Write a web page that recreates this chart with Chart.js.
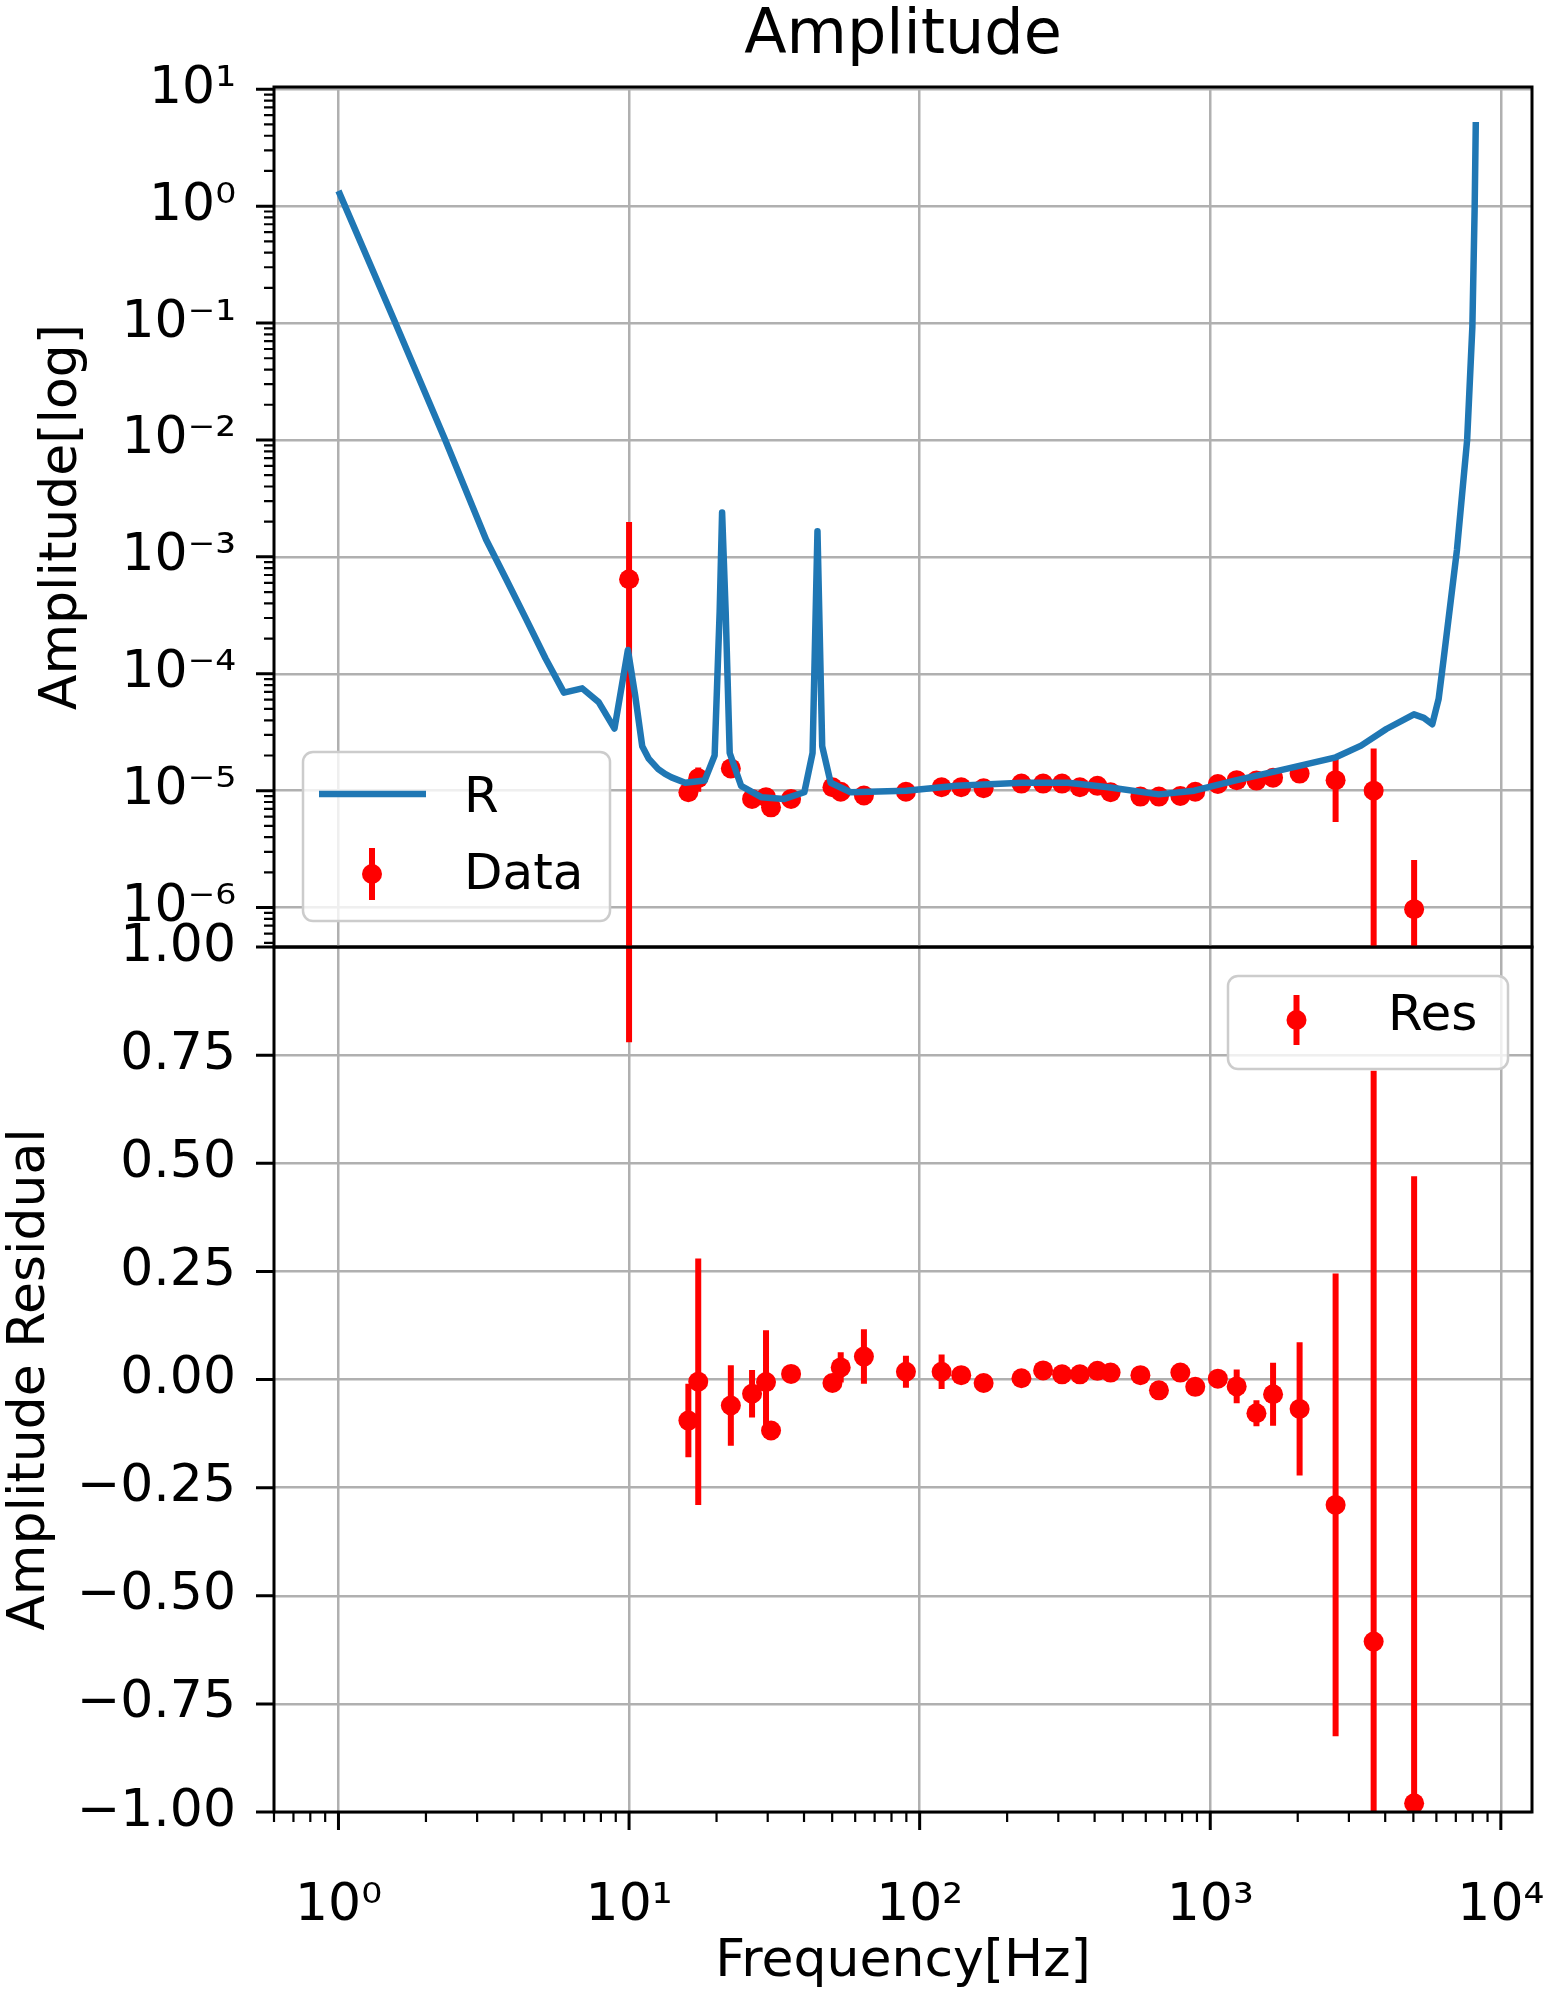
<!DOCTYPE html>
<html>
<head>
<meta charset="utf-8">
<title>Amplitude</title>
<script src="https://cdn.jsdelivr.net/npm/chart.js@4.4.1/dist/chart.umd.min.js"></script>
<style>
  html, body { margin: 0; padding: 0; background: #fff; }
  #wrap { position: relative; width: 1547px; height: 1994px; overflow: hidden; }
  canvas { position: absolute; left: 0; }
  #amp { top: 0; }
  #resid { top: 880px; }
</style>
</head>
<body>
<div id="wrap">
  <canvas id="resid" width="1547" height="1114"></canvas>
  <canvas id="amp" width="1547" height="1000"></canvas>
</div>
<script>
// measured transfer function points
const freq = [10, 16.0, 17.3, 22.4, 26.5, 29.6, 30.8, 36.1, 50.1, 53.5, 64.3, 89.7, 119, 139, 166, 224, 266,
  309, 356, 409, 454, 575, 666, 789, 888, 1062, 1233, 1442, 1645, 2030, 2700, 3650, 5030];
const amp = [6.43e-4, 9.7e-6, 1.28e-5, 1.55e-5, 8.5e-6, 8.8e-6, 7.2e-6, 8.5e-6, 1.07e-5, 9.8e-6, 9.1e-6,
  9.8e-6, 1.07e-5, 1.07e-5, 1.05e-5, 1.15e-5, 1.15e-5, 1.15e-5, 1.07e-5, 1.10e-5, 9.7e-6, 8.9e-6, 8.9e-6,
  9.0e-6, 9.8e-6, 1.14e-5, 1.23e-5, 1.22e-5, 1.29e-5, 1.40e-5, 1.23e-5, 1.00e-5, 9.7e-7];
const ampErr = [1.34e-3, 8e-7, 3.0e-6, 1.4e-6, 5e-7, 1.0e-6, 2e-7, 2e-7, 2e-7, 3.5e-7, 6e-7,
  4e-7, 4e-7, 2e-7, 2e-7, 2e-7, 2e-7, 2e-7, 2e-7, 2e-7, 2e-7, 2e-7, 2e-7,
  2e-7, 2e-7, 2e-7, 5e-7, 4e-7, 1.0e-6, 2.1e-6, 6.9e-6, 1.29e-5, 1.58e-6];
const res = [1.5, -0.095, -0.005, -0.060, -0.033, -0.006, -0.118, 0.013, -0.008, 0.028, 0.053,
  0.018, 0.018, 0.010, -0.008, 0.003, 0.021, 0.012, 0.012, 0.020, 0.016, 0.010, -0.025,
  0.016, -0.017, 0.002, -0.016, -0.078, -0.034, -0.068, -0.29, -0.606, -0.98];
const resErr = [0.72, 0.085, 0.285, 0.093, 0.055, 0.12, 0.02, 0.01, 0.015, 0.035, 0.063,
  0.037, 0.04, 0.01, 0.01, 0.01, 0.015, 0.01, 0.01, 0.015, 0.01, 0.01, 0.01,
  0.015, 0.01, 0.01, 0.039, 0.03, 0.073, 0.154, 0.535, 1.32, 1.45];

// model curve R
const modelFreq = [1, 1.57, 2.33, 3.22, 3.77, 4.42, 5.16, 5.97, 6.90, 7.87, 8.91, 9.91, 10.5, 11.1, 11.7,
  12.6, 13.3, 14.0, 15.6, 18.2, 19.7, 20.5, 20.9, 21.5, 22.2, 24.3, 28.5, 34.2, 40.1, 42.8, 44.5, 46.2,
  49.4, 57.9, 89.7, 134, 225, 324, 446, 665, 881, 1213, 1811, 2704, 3304, 4036, 5023, 5433, 5808, 6109,
  6353, 7063, 7656, 7980, 8128, 8200];
const modelAmp = [1.35, 0.1, 1.0e-2, 1.41e-3, 6.5e-4, 2.95e-4, 1.35e-4, 6.9e-5, 7.5e-5, 5.7e-5, 3.4e-5,
  1.6e-4, 6.5e-5, 2.4e-5, 1.87e-5, 1.53e-5, 1.39e-5, 1.3e-5, 1.17e-5, 1.22e-5, 2.0e-5, 3.4e-4, 2.4e-3,
  3.4e-4, 2.1e-5, 1.1e-5, 8.8e-6, 8.5e-6, 9.7e-6, 2.1e-5, 1.66e-3, 2.4e-5, 1.17e-5, 9.7e-6, 1.0e-5,
  1.1e-5, 1.17e-5, 1.17e-5, 1.07e-5, 9.3e-6, 1.0e-5, 1.22e-5, 1.53e-5, 1.93e-5, 2.43e-5, 3.37e-5,
  4.5e-5, 4.2e-5, 3.7e-5, 6.1e-5, 1.33e-4, 1.15e-3, 1.0e-2, 9.3e-2, 1.0, 5.25];

// tick values
const freqTicks = [1, 10, 100, 1000, 10000];
const ampTicks = [1e-6, 1e-5, 1e-4, 1e-3, 1e-2, 1e-1, 1, 10];
const resTicks = [-1, -0.75, -0.5, -0.25, 0, 0.25, 0.5, 0.75, 1];

const X_MIN = 0.635, X_MAX = 12800;
const AMP_MIN = Math.pow(10, -6.337), AMP_MAX = Math.pow(10, 1.019);

const BLUE = '#1f77b4', RED = '#ff0000', GRID = '#b0b0b0';
const FONT = 'DejaVu Sans';
Chart.defaults.font.family = FONT;
Chart.defaults.color = '#000';

const SUP = { '-': '\u207b', '0': '\u2070', '1': '\u00b9', '2': '\u00b2', '3': '\u00b3', '4': '\u2074',
  '5': '\u2075', '6': '\u2076', '7': '\u2077', '8': '\u2078', '9': '\u2079' };
function powLabel(v) {
  const e = Math.round(Math.log10(v));
  return '10' + String(e).split('').map(c => SUP[c]).join('');
}

function logMinors(e0, e1) {
  const out = [];
  for (let e = e0; e <= e1; e++) for (let k = 2; k <= 9; k++) out.push(k * Math.pow(10, e));
  return out;
}

// vertical error bar segments, broken apart by null points
function errorSegments(xs, ys, errs, floor) {
  const pts = [];
  xs.forEach((x, i) => {
    let lo = ys[i] - errs[i];
    if (floor !== undefined && lo <= 0) lo = floor;
    pts.push({ x: x, y: lo }, { x: x, y: ys[i] + errs[i] }, { x: x, y: null });
  });
  return pts;
}

// keep the plot box fixed: no extra room reserved for edge labels
function fixedBox(size) {
  return s => {
    if (s.isHorizontal()) s.height = size; else s.width = size;
    s.paddingLeft = s.paddingRight = s.paddingTop = s.paddingBottom = 0;
  };
}

// axes frame, matplotlib-style outward tick marks, and bottom tick labels
function frameAndTicks(marks, xLabels) {
  return {
    id: 'frameAndTicks',
    afterDraw(chart) {
      const ctx = chart.ctx, a = chart.chartArea;
      ctx.save();
      ctx.strokeStyle = '#000';
      const draw = (scaleId, values, len, width) => {
        const s = chart.scales[scaleId];
        ctx.lineWidth = width;
        ctx.beginPath();
        values.forEach(v => {
          const p = s.getPixelForValue(v);
          if (s.isHorizontal()) {
            if (p < a.left - 0.5 || p > a.right + 0.5) return;
            ctx.moveTo(p, a.bottom); ctx.lineTo(p, a.bottom + len);
          } else {
            if (p < a.top - 0.5 || p > a.bottom + 0.5) return;
            ctx.moveTo(a.left, p); ctx.lineTo(a.left - len, p);
          }
        });
        ctx.stroke();
      };
      marks.forEach(m => {
        draw(m.scale, m.major, 18, 3);
        draw(m.scale, m.minor, 10, 2.2);
      });
      ctx.lineWidth = 3;
      ctx.strokeRect(a.left, a.top, a.right - a.left, a.bottom - a.top);
      if (xLabels) {
        const s = chart.scales.x;
        ctx.fillStyle = '#000';
        ctx.font = xLabels.size + 'px "' + FONT + '"';
        ctx.textAlign = 'center';
        ctx.textBaseline = 'alphabetic';
        xLabels.values.forEach(v => {
          ctx.fillText(powLabel(v), s.getPixelForValue(v), a.bottom + xLabels.drop);
        });
      }
      ctx.restore();
    }
  };
}

function roundBox(ctx, x, y, w, h, r) {
  ctx.beginPath();
  ctx.moveTo(x + r, y);
  ctx.arcTo(x + w, y, x + w, y + h, r);
  ctx.arcTo(x + w, y + h, x, y + h, r);
  ctx.arcTo(x, y + h, x, y, r);
  ctx.arcTo(x, y, x + w, y, r);
  ctx.closePath();
}

// legend box placed inside the plot area
function boxLegend(box, rows) {
  return {
    id: 'boxLegend',
    afterDraw(chart) {
      const ctx = chart.ctx;
      ctx.save();
      roundBox(ctx, box.x, box.y, box.w, box.h, 10);
      ctx.fillStyle = 'rgba(255,255,255,0.8)';
      ctx.fill();
      ctx.lineWidth = 2.5;
      ctx.strokeStyle = '#cccccc';
      ctx.stroke();
      ctx.font = '50px "' + FONT + '"';
      ctx.textBaseline = 'middle';
      rows.forEach(r => {
        const ds = chart.data.datasets[r.dataset];
        if (r.kind === 'line') {
          ctx.strokeStyle = ds.borderColor;
          ctx.lineWidth = ds.borderWidth;
          ctx.beginPath(); ctx.moveTo(r.x0, r.y); ctx.lineTo(r.x1, r.y); ctx.stroke();
        } else {
          const bars = chart.data.datasets[r.bars];
          ctx.strokeStyle = bars.borderColor;
          ctx.lineWidth = bars.borderWidth;
          ctx.beginPath(); ctx.moveTo(r.x0, r.y - r.half); ctx.lineTo(r.x0, r.y + r.half); ctx.stroke();
          ctx.fillStyle = ds.pointBackgroundColor;
          ctx.beginPath(); ctx.arc(r.x0, r.y, ds.pointRadius, 0, Math.PI * 2); ctx.fill();
        }
        ctx.fillStyle = '#000';
        ctx.fillText(ds.label, r.tx, r.ty);
      });
      ctx.restore();
    }
  };
}

const tickFont = { size: 52 };
const titleFont = { size: 52 };

// upper panel: amplitude on log-log axes
new Chart(document.getElementById('amp'), {
  type: 'scatter',
  data: {
    datasets: [
      { label: 'R', data: modelFreq.map((f, i) => ({ x: f, y: modelAmp[i] })), showLine: true,
        borderColor: BLUE, borderWidth: 6.5, borderJoinStyle: 'round', pointRadius: 0, tension: 0, clip: 0 },
      { label: '', data: errorSegments(freq, amp, ampErr, 1e-9), showLine: true,
        borderColor: RED, borderWidth: 6, pointRadius: 0, clip: 0 },
      { label: 'Data', data: freq.map((f, i) => ({ x: f, y: amp[i] })), pointRadius: 10,
        pointBackgroundColor: RED, pointBorderColor: RED, pointBorderWidth: 0, clip: 0 }
    ]
  },
  options: {
    responsive: false, animation: false, events: [], devicePixelRatio: 1,
    layout: { padding: { left: 0, right: 15, top: 0, bottom: 53 }, autoPadding: false },
    plugins: {
      legend: { display: false },
      tooltip: { enabled: false },
      title: { display: true, text: 'Amplitude', fullSize: false, color: '#000',
        font: { size: 62, weight: 'normal' }, padding: { top: 0, bottom: 12.6 } }
    },
    scales: {
      x: {
        type: 'logarithmic', min: X_MIN, max: X_MAX,
        ticks: { display: false },
        grid: { color: GRID, lineWidth: 2.5, drawTicks: false },
        border: { display: false },
        afterBuildTicks: s => { s.ticks = freqTicks.map(v => ({ value: v })); },
        afterFit: fixedBox(0)
      },
      y: {
        type: 'logarithmic', min: AMP_MIN, max: AMP_MAX,
        ticks: { font: tickFont, color: '#000', padding: 38, autoSkip: false, callback: v => powLabel(v) },
        grid: { color: GRID, lineWidth: 2.5, drawTicks: false },
        border: { display: false },
        title: { display: true, text: 'Amplitude[log]', font: titleFont, color: '#000', padding: { top: 31, bottom: 0 } },
        afterBuildTicks: s => { s.ticks = ampTicks.map(v => ({ value: v })); },
        afterFit: fixedBox(274)
      }
    }
  },
  plugins: [
    frameAndTicks([{ scale: 'y', major: ampTicks, minor: logMinors(-7, 1) }]),
    boxLegend({ x: 303, y: 752, w: 307, h: 169 }, [
      { kind: 'line', dataset: 0, x0: 319, x1: 426, y: 794, tx: 464, ty: 799 },
      { kind: 'errorbar', dataset: 2, bars: 1, x0: 372, y: 874, half: 26, tx: 464, ty: 876 }
    ])
  ]
});

// lower panel: residuals
new Chart(document.getElementById('resid'), {
  type: 'scatter',
  data: {
    datasets: [
      { label: 'Res', data: freq.map((f, i) => ({ x: f, y: res[i] })), pointRadius: 10,
        pointBackgroundColor: RED, pointBorderColor: RED, pointBorderWidth: 0, clip: 0 },
      { label: '', data: errorSegments(freq, res, resErr), showLine: true,
        borderColor: RED, borderWidth: 6, pointRadius: 0, clip: 0 }
    ]
  },
  options: {
    responsive: false, animation: false, events: [], devicePixelRatio: 1,
    layout: { padding: { left: 0, right: 15, top: 67, bottom: 0 }, autoPadding: false },
    plugins: { legend: { display: false }, tooltip: { enabled: false } },
    scales: {
      x: {
        type: 'logarithmic', min: X_MIN, max: X_MAX,
        ticks: { display: false },
        grid: { color: GRID, lineWidth: 2.5, drawTicks: false },
        border: { display: false },
        title: { display: true, text: 'Frequency[Hz]', font: titleFont, color: '#000', padding: { top: 0, bottom: 0 } },
        afterBuildTicks: s => { s.ticks = freqTicks.map(v => ({ value: v })); },
        afterFit: fixedBox(182)
      },
      y: {
        type: 'linear', min: -1, max: 1,
        ticks: { font: tickFont, color: '#000', padding: 38, stepSize: 0.25, autoSkip: false,
          callback: v => (v < 0 ? '\u2212' : '') + Math.abs(v).toFixed(2) },
        grid: { color: GRID, lineWidth: 2.5, drawTicks: false },
        border: { display: false },
        title: { display: true, text: 'Amplitude Residual', font: titleFont, color: '#000', padding: { top: -1, bottom: 0 } },
        afterBuildTicks: s => { s.ticks = resTicks.map(v => ({ value: v })); },
        afterFit: fixedBox(274)
      }
    }
  },
  plugins: [
    frameAndTicks([
      { scale: 'y', major: resTicks, minor: [] },
      { scale: 'x', major: freqTicks, minor: logMinors(-1, 3) }
    ], { values: freqTicks, size: 52, drop: 108 }),
    boxLegend({ x: 1228, y: 96, w: 280, h: 93 }, [
      { kind: 'errorbar', dataset: 0, bars: 1, x0: 1296.5, y: 140, half: 25, tx: 1388, ty: 137 }
    ])
  ]
});
</script>
</body>
</html>
